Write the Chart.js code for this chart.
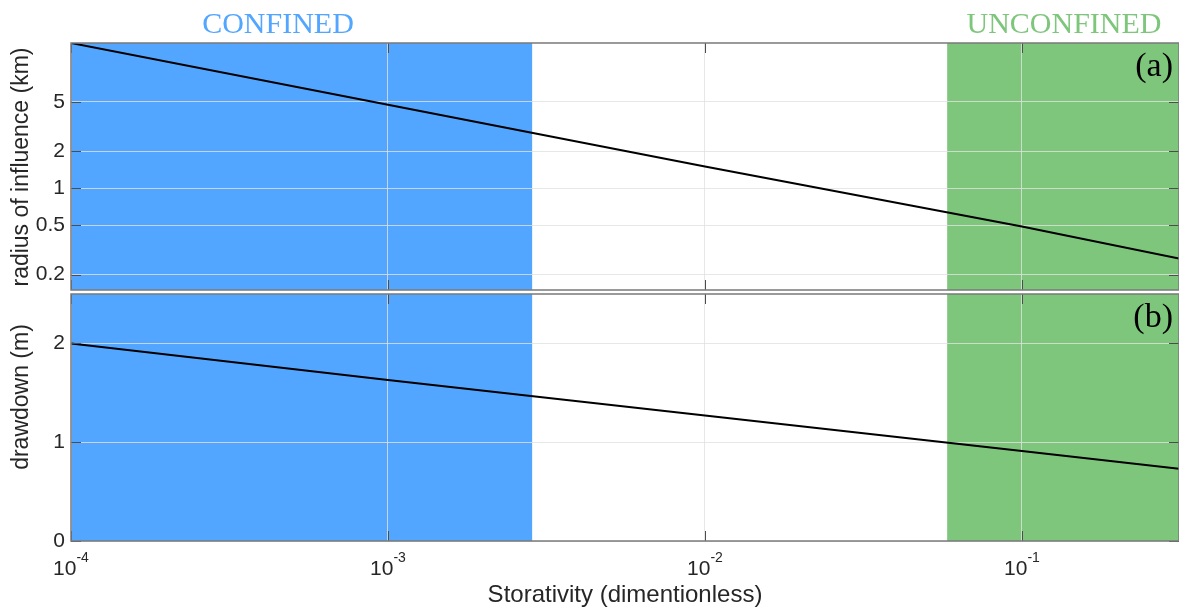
<!DOCTYPE html>
<html>
<head>
<meta charset="utf-8">
<script src="https://cdn.jsdelivr.net/npm/chart.js@4.4.0/dist/chart.umd.min.js"></script>
<style>
body { margin: 0; background: #fff; }
#wrap { position: relative; width: 1179px; height: 610px; }
.panel { position: absolute; left: 0; width: 1179px; }
</style>
</head>
<body>
<div id="wrap">
  <div class="panel" style="top:0;height:292px"><canvas id="chartA"></canvas></div>
  <div class="panel" style="top:292px;height:318px"><canvas id="chartB"></canvas></div>
</div>
<script>
// values
const storativity = [1e-4, 1e-3, 1e-2, 1e-1, 0.313]
const radiusKm = [15.0, 4.74, 1.50, 0.49, 0.27]
const drawdownM = [2.00, 1.63, 1.27, 0.91, 0.73]

const xTicks = [1e-4, 1e-3, 1e-2, 1e-1]
const xTickExp = ['-4', '-3', '-2', '-1']
const radiusTicks = [0.2, 0.5, 1, 2, 5]
const drawdownTicks = [0, 1, 2]

const confinedBand = [1e-4, 0.00285]
const unconfinedBand = [0.0581, 0.313]
const xRange = [1e-4, 0.313]
const radiusRange = [0.15, 15]
const drawdownRange = [0, 2.5]

const sans = '"Liberation Sans", Arial, sans-serif'
const serif = '"Liberation Serif", "Times New Roman", serif'
const textColor = '#262626'
const blue = '#52a6ff'
const green = '#7dc67b'
const gridColor = 'rgba(225,225,225,0.8)'

// colored regions behind everything
const bandsPlugin = {
    id: 'bands',
    beforeDraw(chart) {
        const ctx = chart.ctx, a = chart.chartArea, x = chart.scales.x
        ctx.save()
        let x0 = x.getPixelForValue(confinedBand[0]), x1 = x.getPixelForValue(confinedBand[1])
        ctx.fillStyle = blue
        ctx.fillRect(x0, a.top, x1 - x0, a.bottom - a.top)
        x0 = x.getPixelForValue(unconfinedBand[0]); x1 = x.getPixelForValue(unconfinedBand[1])
        ctx.fillStyle = green
        ctx.fillRect(x0, a.top, x1 - x0 + 2, a.bottom - a.top)
        ctx.restore()
    }
}

// box, inward ticks, labels
const framePlugin = {
    id: 'frame',
    afterDraw(chart, args, opts) {
        const ctx = chart.ctx, a = chart.chartArea
        const x = chart.scales.x, y = chart.scales.y
        ctx.save()
        ctx.strokeStyle = '#4d4d4d'
        ctx.lineWidth = 1
        ctx.beginPath()
        for (const v of xTicks) {
            const px = Math.round(x.getPixelForValue(v)) + 0.5
            ctx.moveTo(px, a.top); ctx.lineTo(px, a.top + 10)
            ctx.moveTo(px, a.bottom); ctx.lineTo(px, a.bottom - 10)
        }
        for (const t of y.ticks) {
            const py = Math.round(y.getPixelForValue(t.value)) + 0.5
            ctx.moveTo(a.left, py); ctx.lineTo(a.left + 10, py)
            ctx.moveTo(a.right, py); ctx.lineTo(a.right - 10, py)
        }
        ctx.stroke()
        ctx.strokeStyle = '#7a7a7a'
        ctx.lineWidth = 1.5
        ctx.strokeRect(a.left, a.top, a.right - a.left, a.bottom - a.top)

        // panel letter
        ctx.fillStyle = '#000'
        ctx.font = '34px ' + serif
        ctx.textAlign = 'right'
        ctx.textBaseline = 'alphabetic'
        ctx.fillText(opts.letter, a.right - 6, a.top + 33)

        // y title drawn here so it can sit where the original has it
        ctx.save()
        ctx.translate(22, opts.yTitleY)
        ctx.rotate(-Math.PI / 2)
        ctx.textAlign = 'center'
        ctx.textBaseline = 'middle'
        ctx.fillStyle = textColor
        ctx.font = '23px ' + sans
        ctx.fillText(opts.yTitle, 0, 0)
        ctx.restore()

        if (opts.regions) {
            ctx.textAlign = 'center'
            ctx.font = '30px ' + serif
            ctx.fillStyle = blue
            ctx.fillText('CONFINED', 278, 33)
            ctx.fillStyle = green
            ctx.fillText('UNCONFINED', 1064, 33)
        }

        if (opts.xLabels) {
            ctx.fillStyle = textColor
            ctx.textAlign = 'left'
            for (let i = 0; i < xTicks.length; i++) {
                const px = x.getPixelForValue(xTicks[i])
                ctx.font = '21px ' + sans
                const w1 = ctx.measureText('10').width
                ctx.font = '14px ' + sans
                const w2 = ctx.measureText(xTickExp[i]).width
                const start = px - (w1 + w2) / 2
                ctx.font = '21px ' + sans
                ctx.fillText('10', start, a.bottom + 34)
                ctx.font = '14px ' + sans
                ctx.fillText(xTickExp[i], start + w1, a.bottom + 21)
            }
        }
        ctx.restore()
    }
}

function makeChart(id, values, yType, yRange, yTicks, yTitle, yTitleY, bottomPanel) {
    const points = storativity.map((s, i) => ({ x: s, y: values[i] }))
    return new Chart(document.getElementById(id), {
        type: 'line',
        data: {
            datasets: [{
                data: points,
                borderColor: '#000',
                borderWidth: 2,
                pointRadius: 0,
                tension: 0
            }]
        },
        plugins: [bandsPlugin, framePlugin],
        options: {
            responsive: true,
            maintainAspectRatio: false,
            animation: false,
            layout: { padding: bottomPanel ? { top: 2, right: 0, left: 0, bottom: 0 } : { top: 43, right: 0, left: 0, bottom: 2 } },
            scales: {
                x: {
                    type: 'logarithmic',
                    min: xRange[0],
                    max: xRange[1],
                    afterBuildTicks: s => { s.ticks = xTicks.map(v => ({ value: v })) },
                    ticks: { display: false },
                    grid: { color: gridColor, drawTicks: false },
                    border: { display: false },
                    title: {
                        display: bottomPanel,
                        text: 'Storativity (dimentionless)',
                        color: textColor,
                        font: { family: sans, size: 24 },
                        padding: { top: 0, bottom: 0 }
                    },
                    afterFit: s => { s.height = bottomPanel ? 69 : 0; s.paddingLeft = 0; s.paddingRight = 0 }
                },
                y: {
                    type: yType,
                    min: yRange[0],
                    max: yRange[1],
                    afterBuildTicks: s => { s.ticks = yTicks.map(v => ({ value: v })) },
                    ticks: {
                        color: textColor,
                        font: { family: sans, size: 21 },
                        padding: 6,
                        callback: v => String(v)
                    },
                    grid: { color: gridColor, drawTicks: false },
                    border: { display: false },
                    title: { display: false },
                    afterFit: s => { s.width = 71; s.paddingTop = 0; s.paddingBottom = 0 }
                }
            },
            plugins: {
                legend: { display: false },
                tooltip: { enabled: false },
                frame: {
                    letter: bottomPanel ? '(b)' : '(a)',
                    regions: !bottomPanel,
                    xLabels: bottomPanel,
                    yTitle: yTitle,
                    yTitleY: yTitleY
                }
            }
        }
    })
}

makeChart('chartA', radiusKm, 'logarithmic', radiusRange, radiusTicks, 'radius of influence (km)', 167, false)
makeChart('chartB', drawdownM, 'linear', drawdownRange, drawdownTicks, 'drawdown (m)', 105, true)
</script>
</body>
</html>
